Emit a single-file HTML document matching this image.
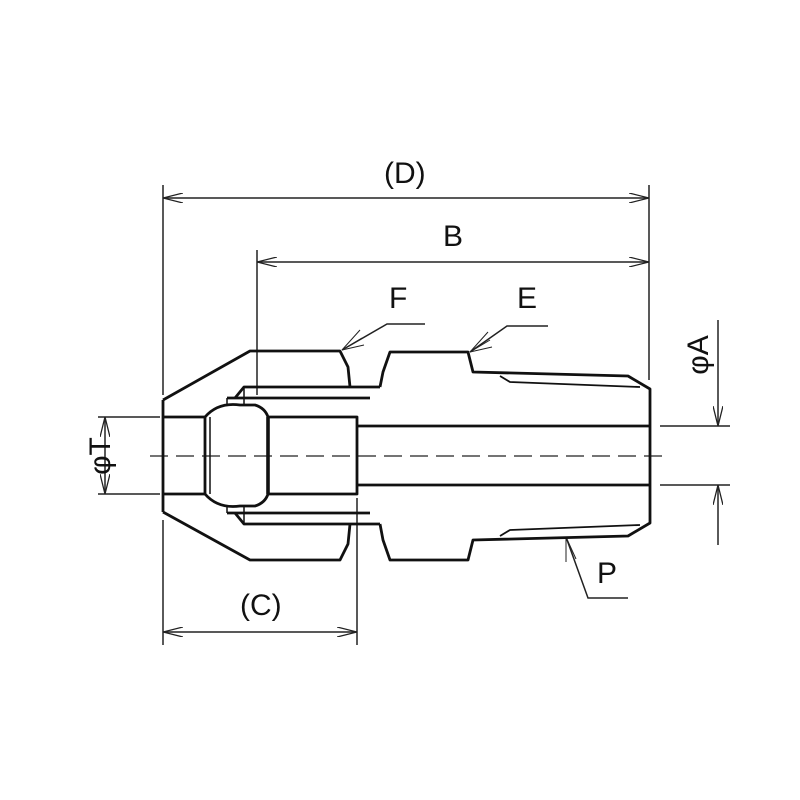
<!DOCTYPE html>
<html><head><style>html,body{margin:0;background:#fff}svg{display:block}</style></head><body>
<svg width="800" height="800" viewBox="0 0 800 800" xmlns="http://www.w3.org/2000/svg">
<defs>
<marker id="ar" viewBox="0 0 20 10" refX="20" refY="5" markerWidth="20" markerHeight="10" markerUnits="userSpaceOnUse" orient="auto-start-reverse">
<path d="M0,0 L20,5 L0,10" fill="none" stroke="#222" stroke-width="1.3"/></marker>
</defs>
<g fill="none" stroke="#222" stroke-width="1.5">
<line x1="163" y1="185" x2="163" y2="395"/>
<line x1="649" y1="185" x2="649" y2="380"/>
<line x1="257" y1="250" x2="257" y2="395"/>
<line x1="357" y1="498" x2="357" y2="645"/>
<line x1="163" y1="520" x2="163" y2="645"/>
<line x1="98" y1="417" x2="160" y2="417"/>
<line x1="98" y1="494" x2="160" y2="494"/>
<line x1="660" y1="426" x2="730" y2="426"/>
<line x1="660" y1="485" x2="730" y2="485"/>
<line x1="163" y1="198" x2="649" y2="198" marker-start="url(#ar)" marker-end="url(#ar)"/>
<line x1="257" y1="262" x2="649" y2="262" marker-start="url(#ar)" marker-end="url(#ar)"/>
<line x1="163" y1="632" x2="357" y2="632" marker-start="url(#ar)" marker-end="url(#ar)"/>
<line x1="105" y1="417" x2="105" y2="494" marker-start="url(#ar)" marker-end="url(#ar)"/>
<line x1="718" y1="320" x2="718" y2="426" marker-end="url(#ar)"/>
<line x1="718" y1="545" x2="718" y2="485" marker-end="url(#ar)"/>
<polyline points="425,324 387,324 342,350"/>
<polyline points="548,326 507,326 470,352"/>
<polyline points="628,598 588,598 566,537"/>
<path d="M342,350 l18,-20 M342,350 l20,-12 M342,350 l22,-5" stroke-width="1"/>
<path d="M470,352 l18,-20 M470,352 l20,-12 M470,352 l22,-5" stroke-width="1"/>
<path d="M566,537 l0,25 M566,537 l10,22" stroke-width="1"/>
<line x1="150" y1="456" x2="665" y2="456" stroke-dasharray="18,8" stroke-width="1.3"/>
</g>
<g fill="none" stroke="#111" stroke-width="2.8" stroke-linejoin="round">
<polyline points="163,400 250,351 340,351 348,367 350,387"/>
<polyline points="163,512 250,560 340,560 348,544 350,524"/>
<line x1="163" y1="400" x2="163" y2="512"/>
<polyline points="235,398 244,387 380,387"/>
<line x1="227" y1="398" x2="370" y2="398"/>
<polyline points="235,513 244,524 380,524"/>
<line x1="227" y1="513" x2="370" y2="513"/>
<polyline points="380,387 383,372 390,352 468,352 473,372 628,376 650,389 650,523 628,536 473,540 468,560 390,560 383,540 380,524"/>
<polyline points="500,376 510,382 640,387" stroke-width="1.8"/>
<polyline points="500,536 510,530 640,525" stroke-width="1.8"/>
<polyline points="163,417 205,417 205,494 163,494"/>
<line x1="210" y1="417" x2="210" y2="494" stroke-width="1.5"/>
<path d="M205,417 Q218,402 240,405 L255,405 Q265,408 268,417 L268,494 Q265,503 255,506 L240,506 Q218,509 205,494"/>
<polyline points="227,398 227,405" stroke-width="1.5"/>
<polyline points="227,513 227,506" stroke-width="1.5"/>
<line x1="244" y1="387" x2="244" y2="405" stroke-width="1.5"/>
<line x1="244" y1="524" x2="244" y2="506" stroke-width="1.5"/>
<line x1="268" y1="417" x2="268" y2="494" stroke-width="3.6"/>
<polyline points="268,417 357,417 357,494 268,494"/>
<line x1="357" y1="426" x2="650" y2="426"/>
<line x1="357" y1="485" x2="650" y2="485"/>
</g>
<g font-family="Liberation Sans Narrow, Liberation Sans, sans-serif" font-size="30" fill="#111">
<text x="384" y="183">(D)</text>
<text x="443" y="246">B</text>
<text x="389" y="308">F</text>
<text x="517" y="308">E</text>
<text x="240" y="615">(C)</text>
<text x="597" y="583">P</text>
<text transform="translate(110,456) rotate(-90)" text-anchor="middle">φT</text>
<text transform="translate(708,355) rotate(-90)" text-anchor="middle">φA</text>
</g>
</svg>
</body></html>
